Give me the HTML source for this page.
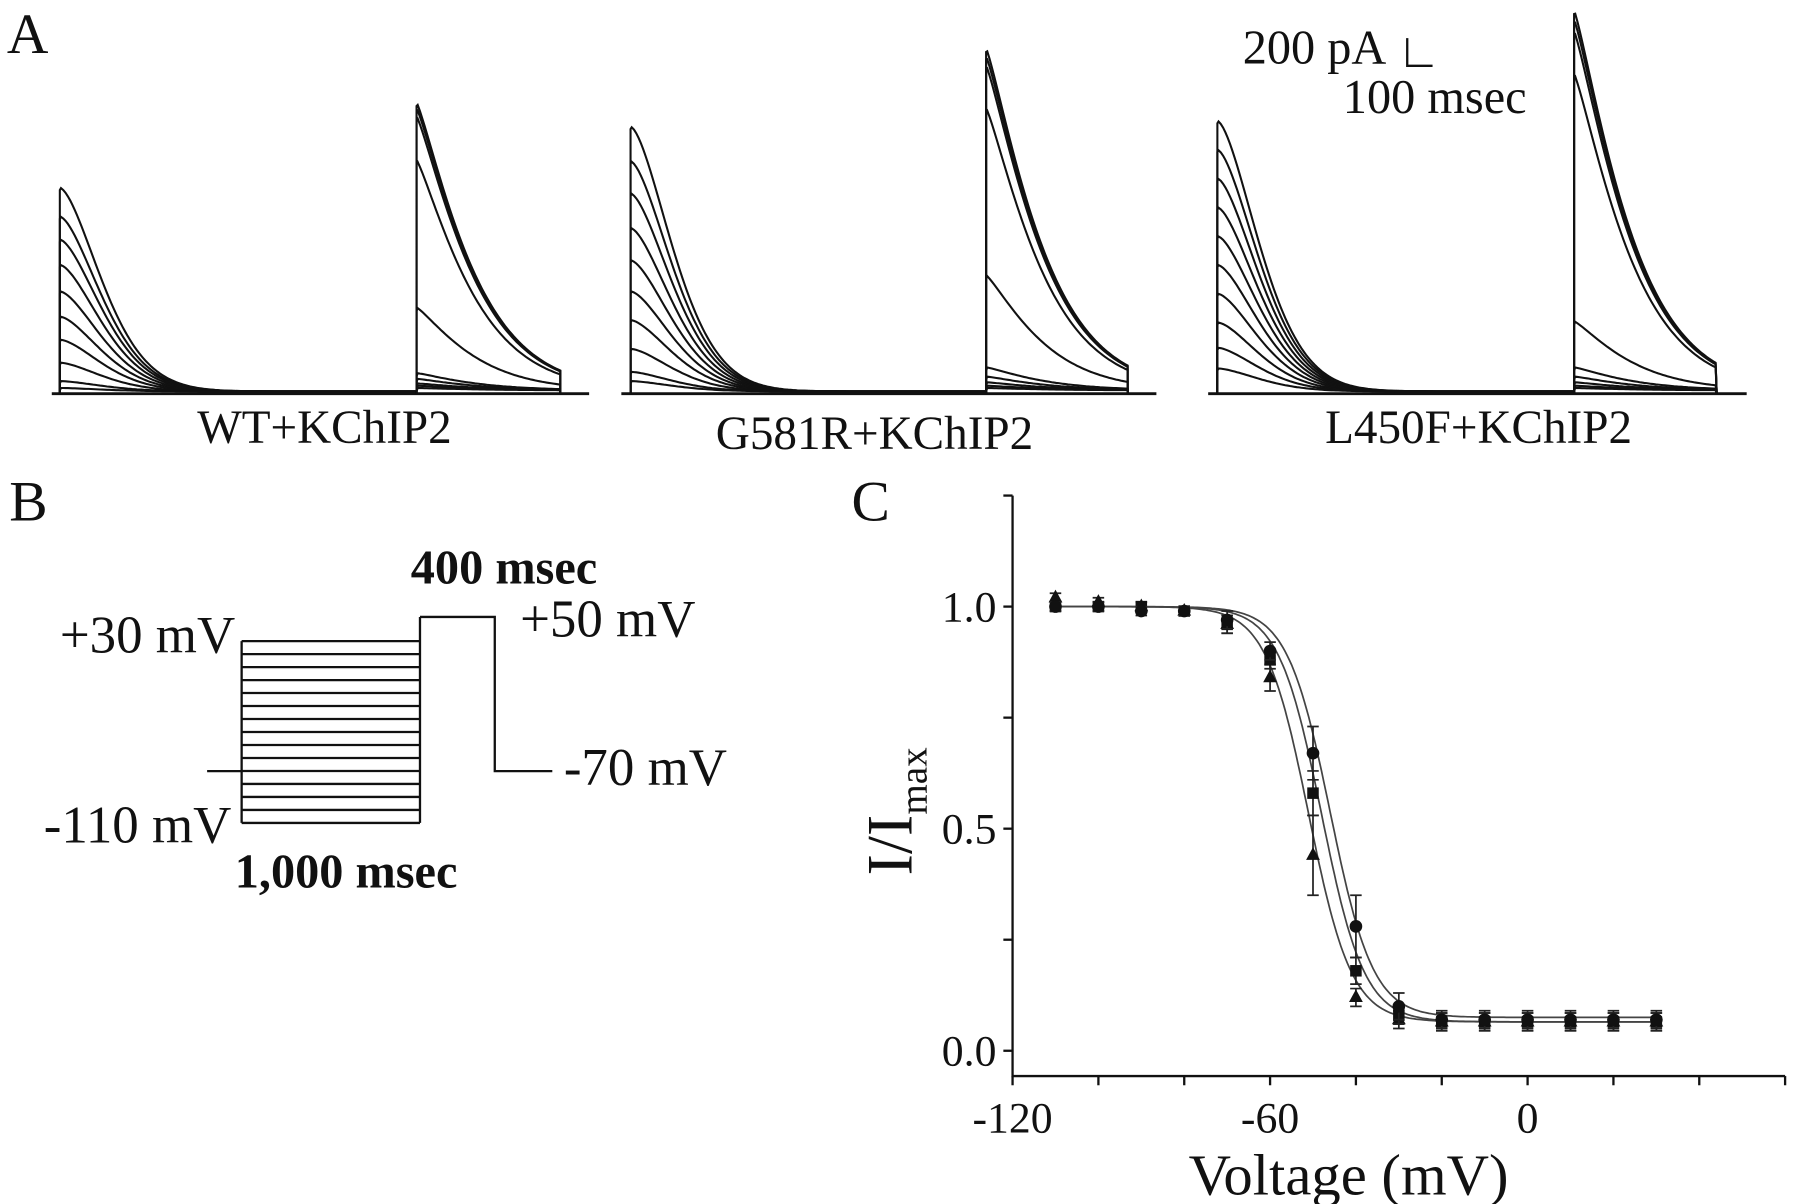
<!DOCTYPE html>
<html><head><meta charset="utf-8"><style>
html,body{margin:0;padding:0;background:#fff;}
svg{display:block;}
text{font-family:"Liberation Serif","DejaVu Serif","Times New Roman",serif;fill:#111;}
</style></head><body>
<svg id="fig" width="1795" height="1204" viewBox="0 0 1560 1046" xmlns="http://www.w3.org/2000/svg" font-family="Liberation Serif, DejaVu Serif, serif">
<g>
<text x="6" y="46" font-size="50">A</text>
<g id="traces"></g>
<text x="282" y="385" font-size="41" text-anchor="middle">WT+KChIP2</text>
<text x="760" y="390" font-size="41" text-anchor="middle">G581R+KChIP2</text>
<text x="1285" y="385" font-size="41" text-anchor="middle">L450F+KChIP2</text>
<g>
<text x="1080" y="55" font-size="42">200 pA</text>
<path d="M1223 33 V57 H1245" stroke="#111" stroke-width="2" fill="none"/>
<text x="1167" y="98" font-size="42">100 msec</text>
</g>
</g>
<g>
<text x="8" y="452" font-size="50">B</text>
<g id="protocol" stroke="#111" stroke-width="2" fill="none"></g>
<text x="357" y="507" font-size="42" font-weight="bold">400 msec</text>
<text x="52" y="567" font-size="46">+30 mV</text>
<text x="452" y="553" font-size="46">+50 mV</text>
<text x="490" y="682" font-size="46">-70 mV</text>
<text x="38" y="732" font-size="46">-110 mV</text>
<text x="204" y="771" font-size="42" font-weight="bold">1,000 msec</text>
</g>
<g>
<text x="740" y="452" font-size="50">C</text>
<g id="chart"></g>
<text x="1172" y="1038" font-size="51" text-anchor="middle">Voltage (mV)</text>
<text transform="translate(792,705) rotate(-90)" font-size="56" text-anchor="middle">I/I<tspan font-size="34" dy="13">max</tspan></text>
</g>
</svg>
<script>
// Panel C data
const voltages = [-110,-100,-90,-80,-70,-60,-50,-40,-30,-20,-10,0,10,20,30];
const circleVals = [1.00,1.00,0.99,0.99,0.97,0.90,0.67,0.28,0.10,0.07,0.07,0.07,0.07,0.07,0.07];
const squareVals = [1.00,1.00,1.00,0.99,0.96,0.88,0.58,0.18,0.08,0.065,0.065,0.065,0.065,0.065,0.065];
const triangleVals = [1.02,1.01,1.00,0.99,0.96,0.84,0.44,0.12,0.07,0.065,0.065,0.065,0.065,0.065,0.065];
const circleErr = [0.01,0.01,0.01,0.01,0.02,0.02,0.06,0.07,0.03,0.02,0.02,0.02,0.02,0.02,0.02];
const squareErr = [0.01,0.01,0.01,0.01,0.02,0.02,0.05,0.03,0.02,0.02,0.02,0.02,0.02,0.02,0.02];
const triangleErr = [0.01,0.01,0.01,0.01,0.02,0.03,0.09,0.02,0.02,0.02,0.02,0.02,0.02,0.02,0.02];
const fitVhalf = [-46,-48,-51];
const fitSlope = [5,5,5];
const fitBottom = [0.075,0.065,0.065];
const xTickLabels = ["-120","-60","0"];
const xTickValues = [-120,-60,0];
const yTickLabels = ["0.0","0.5","1.0"];
const yTickValues = [0,0.5,1.0];

// Panel A data (peak amplitudes, arbitrary units)
const wtPulse1 = [177,152,132,110,87,65,45,25,9,3];
const wtPulse2 = [250,245,238,200,72,15,10,6,4,2];
const gPulse1 = [230,200,172,142,114,87,62,37,17,9];
const gPulse2 = [297,290,282,245,100,20,12,7,4,2];
const lPulse1 = [235,210,185,160,135,110,85,60,38,20];
const lPulse2 = [330,322,312,275,60,20,12,7,4,2];

const NS = "http://www.w3.org/2000/svg";
function mk(tag, attrs, parent){const e=document.createElementNS(NS,tag);for(const k in attrs)e.setAttribute(k,attrs[k]);parent.appendChild(e);return e;}

// Axis functions
const X = v => 880 + (v + 120) * 3.73;
const Y = v => 913 - v * 386;
const chart = document.getElementById('chart');
let ax = mk('path',{d:`M${X(-120)} ${Y(1.25)} V935 H${X(60)}`,stroke:'#111','stroke-width':2,fill:'none'},chart);


for(let v=-120; v<=60; v+=20){ mk('line',{x1:X(v),x2:X(v),y1:935,y2:943,stroke:'#111','stroke-width':2},chart); }
for(let v=0; v<=1.25; v+=0.25){ mk('line',{x1:872,x2:880,y1:Y(v),y2:Y(v),stroke:'#111','stroke-width':2},chart); }
xTickLabels.forEach((t,i)=>{const e=mk('text',{x:X(xTickValues[i]),y:984,'font-size':38,'text-anchor':'middle'},chart);e.textContent=t;

});
yTickLabels.forEach((t,i)=>{const e=mk('text',{x:866,y:Y(yTickValues[i])+13,'font-size':38,'text-anchor':'end'},chart);e.textContent=t;

});
// fits
for(let s=0;s<3;s++){
  let d='';
  for(let v=-110; v<=30.01; v+=0.5){
    const y = fitBottom[s] + (1-fitBottom[s])/(1+Math.exp((v-fitVhalf[s])/fitSlope[s]));
    d += (d?'L':'M')+X(v).toFixed(1)+' '+Y(y).toFixed(1);
  }
  const p=mk('path',{d,stroke:'#444','stroke-width':1.5,fill:'none'},chart);
  
  
}
const series=[[triangleVals,triangleErr,'triangle'],[squareVals,squareErr,'square'],[circleVals,circleErr,'circle']];
series.forEach(([vals,errs,shape])=>{
  vals.forEach((v,i)=>{
    const cx=X(voltages[i]), cy=Y(v), e=errs[i]*386;
    mk('path',{d:`M${cx} ${cy-e}V${cy+e}M${cx-5} ${cy-e}H${cx+5}M${cx-5} ${cy+e}H${cx+5}`,stroke:'#222','stroke-width':1.5},chart);
    let m;
    if(shape==='circle') m=mk('circle',{cx,cy,r:5.5,fill:'#111'},chart);
    else if(shape==='square') m=mk('rect',{x:cx-5,y:cy-5,width:10,height:10,fill:'#111'},chart);
    else m=mk('path',{d:`M${cx} ${cy-7}L${cx+6} ${cy+4}L${cx-6} ${cy+4}Z`,fill:'#111'},chart);
    
    
  });
});

// Panel A traces
const tr=document.getElementById('traces');
const panels=[[52,362,487,45,512,wtPulse1,wtPulse2],[548,857,980,540,1005,gPulse1,gPulse2],[1058,1368,1492,1050,1518,lPulse1,lPulse2]];
const base=342;
panels.forEach(([x1,x2,x3,b0,b1,p1,p2])=>{
  const bl=mk('line',{x1:b0,x2:b1,y1:base,y2:base,stroke:'#111','stroke-width':2.5},tr);
  
  
  p1.forEach(a=>{
    let d=`M${x1} ${base}L${x1} ${base-a}`;
    for(let t=1;t<=x2-x1;t+=2){d+=`L${x1+t} ${(base-2-a*Math.exp(-Math.pow(t/50,1.6))).toFixed(1)}`;}
    const p=mk('path',{d,stroke:'#111','stroke-width':1.8,fill:'none'},tr);
    
    
  });
  p2.forEach(a=>{
    let d=`M${x2} ${base}L${x2} ${base-a}`;
    for(let t=1;t<=x3-x2;t+=2){d+=`L${x2+t} ${(base-3-a*Math.exp(-Math.pow(t/55,1.2))).toFixed(1)}`;}
    d+=`L${x3} ${base}`;
    const p=mk('path',{d,stroke:'#111','stroke-width':1.8,fill:'none'},tr);
    
    
  });
});

// Panel B protocol
const pr=document.getElementById('protocol');
let d=`M180 670H210M210 557V715M365 536V715M365 536H430V670H480`;
for(let i=0;i<15;i++){const y=557+i*(158/14);d+=`M210 ${y.toFixed(1)}H365`;}
const pp=mk('path',{d},pr);


</script>
</body></html>
